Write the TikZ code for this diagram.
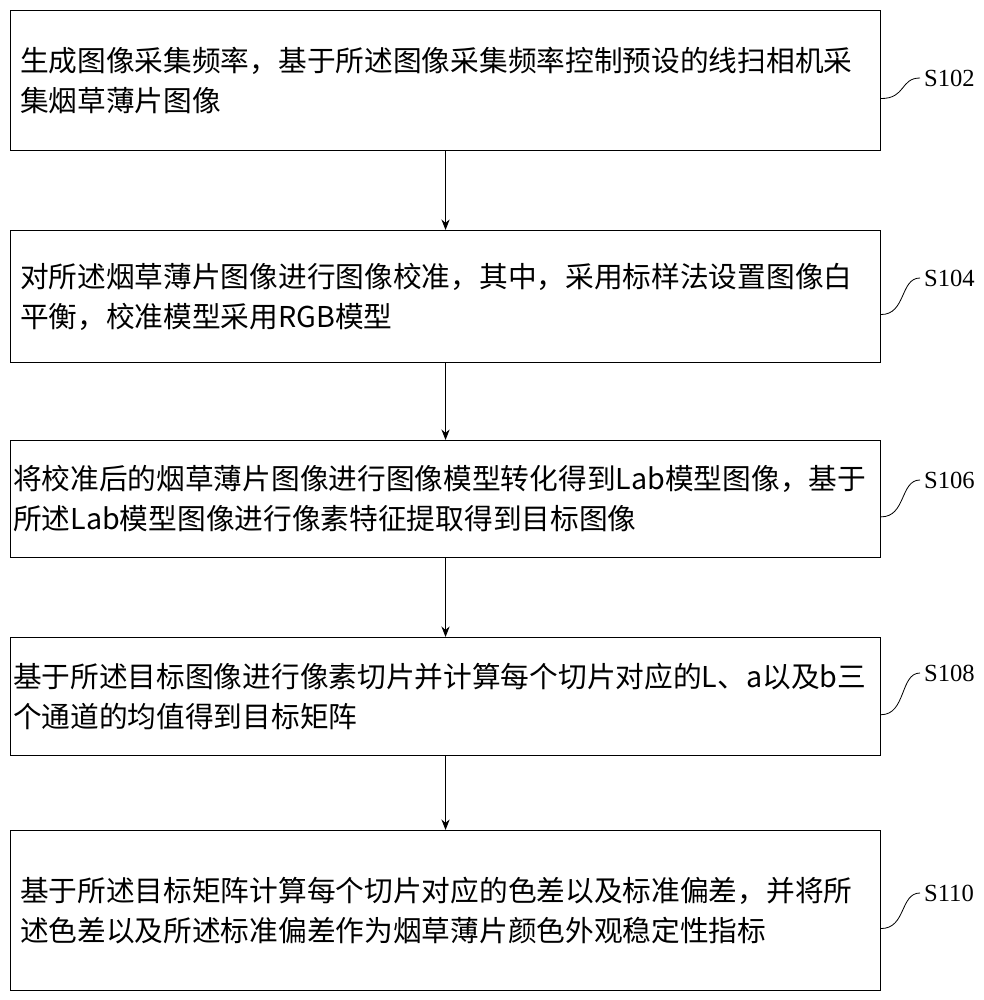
\documentclass[tikz,border=0pt]{standalone}
\usepackage{fontspec}
\newfontfamily\cjk{Noto Sans CJK SC}
\setmainfont{Liberation Serif}
\usetikzlibrary{positioning, arrows.meta}

\begin{document}
\begin{tikzpicture}
	[x=0.03cm, y=-0.03cm,
	 stepbox/.style={draw, line width=0.9pt, minimum width=26.1cm, anchor=north west, align=left, inner xsep=2pt, text width=25.95cm, font=\cjk\fontsize{24.5}{34}\selectfont},
	 steplabel/.style={font=\fontsize{21}{24}\selectfont, anchor=west},
	 flow/.style={-{Stealth[length=9pt,width=7pt]}, line width=0.9pt}]
   \useasboundingbox (0,0) rectangle (984,1000);
   \node[stepbox, minimum height=4.2cm] (s1) at (10,10) {\hspace*{6pt}生成图像采集频率，基于所述图像采集频率控制预设的线扫相机采\\\hspace*{6pt}集烟草薄片图像};
   \node[stepbox, minimum height=3.96cm] (s2) at (10,230) {\hspace*{6pt}对所述烟草薄片图像进行图像校准，其中，采用标样法设置图像白\\\hspace*{6pt}平衡，校准模型采用RGB模型};
   \node[stepbox, minimum height=3.5cm] (s3) at (10,440) {将校准后的烟草薄片图像进行图像模型转化得到Lab模型图像，基于\\所述Lab模型图像进行像素特征提取得到目标图像};
   \node[stepbox, minimum height=3.55cm] (s4) at (10,637) {基于所述目标图像进行像素切片并计算每个切片对应的L、a以及b三\\个通道的均值得到目标矩阵};
   \node[stepbox, minimum height=4.8cm] (s5) at (10,830) {\hspace*{6pt}基于所述目标矩阵计算每个切片对应的色差以及标准偏差，并将所\\\hspace*{6pt}述色差以及所述标准偏差作为烟草薄片颜色外观稳定性指标};
   % step labels
   \foreach \n/\lab/\y in {1/S102/78, 2/S104/278, 3/S106/480, 4/S108/673, 5/S110/893}{
     \node[steplabel] (l\n) at (920,\y) {\lab};
     \draw[line width=0.7pt] (s\n.east) ++(0,18) coordinate (c\n) .. controls +(25,0) and +(-20,0) .. (l\n.west);
   }
   \draw[flow] (s1) -- (s2);
   \draw[flow] (s2) -- (s3);
   \draw[flow] (s3) -- (s4);
   \draw[flow] (s4) -- (s5);
\end{tikzpicture}
\end{document}
